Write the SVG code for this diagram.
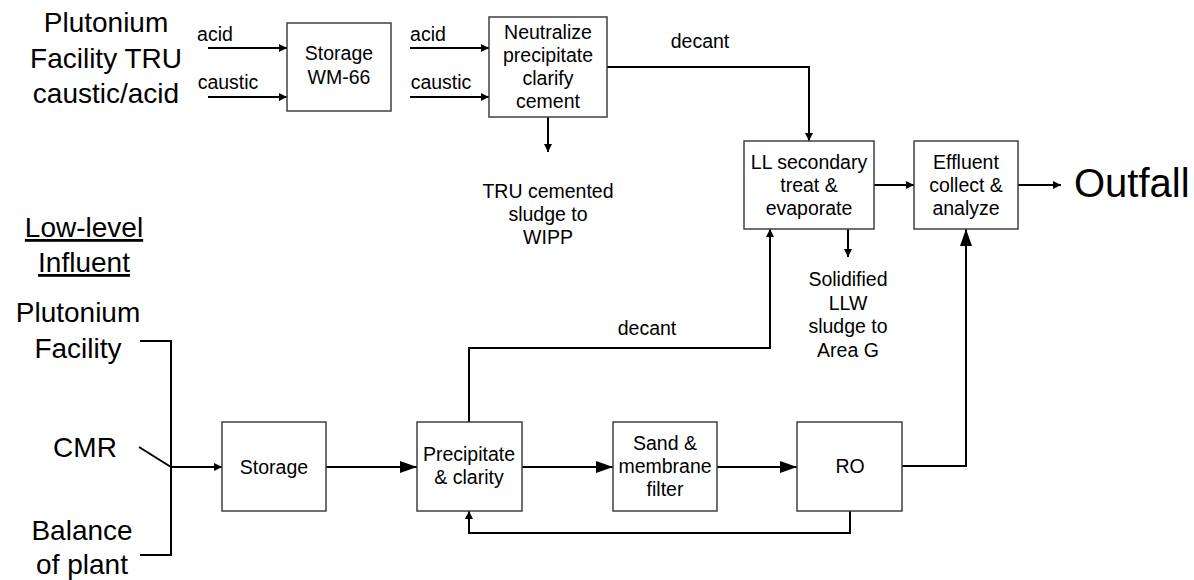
<svg xmlns="http://www.w3.org/2000/svg" width="1194" height="580" viewBox="0 0 1194 580">
<style>
.box{fill:#fff;stroke:#404040;stroke-width:1.5}
.c{fill:none;stroke:#000;stroke-width:2}
.s{marker-end:url(#sm)}
.l{marker-end:url(#lg)}
text{font-family:"Liberation Sans",Arial,sans-serif;fill:#000;text-anchor:middle}
.t{font-size:19.5px}
.big{font-size:28px}
.out{font-size:40px;text-anchor:start}
</style>
<defs>
<marker id="sm" markerUnits="userSpaceOnUse" markerWidth="8" markerHeight="8" refX="8" refY="4" orient="auto"><path d="M0,0 L8,4 L0,8 z" fill="#000"/></marker>
<marker id="lg" markerUnits="userSpaceOnUse" markerWidth="17" markerHeight="12" refX="17" refY="6" orient="auto"><path d="M0,0 L17,6 L0,12 z" fill="#000"/></marker>
</defs>
<rect width="1194" height="580" fill="#fff"/>
<g id="connectors">
<path class="c s" d="M208,48 H287"/>
<path class="c s" d="M208,97 H287"/>
<path class="c s" d="M410,48 H489"/>
<path class="c s" d="M410,97 H489"/>
<path class="c s" d="M548,117 V152"/>
<path class="c s" d="M607,67 H809 V141"/>
<path class="c s" d="M874,185 H914"/>
<path class="c s" d="M1018,185 H1061"/>
<path class="c s" d="M848,229 V257"/>
<path class="c" d="M140,341 H171 V555 H140"/>
<path class="c" d="M139,447 L171,467"/>
<path class="c s" d="M171,467 H222"/>
<path class="c l" d="M326,467 H417"/>
<path class="c l" d="M522,467 H613"/>
<path class="c l" d="M717,467 H797"/>
<path class="c l" d="M902,466 H966 V229"/>
<path class="c s" d="M469,422 V348 H770 V229"/>
<path class="c s" d="M850,511 V533 H469 V511"/>
<text class="t" x="215" y="41">acid</text>
<text class="t" x="228" y="89">caustic</text>
<text class="t" x="428" y="41">acid</text>
<text class="t" x="441" y="89">caustic</text>
<text class="t" x="700" y="48">decant</text>
<text class="t" x="647" y="335">decant</text>
</g>
<g id="pu-tru-source">
<text class="big" x="106" y="32">Plutonium</text>
<text class="big" x="106" y="68">Facility TRU</text>
<text class="big" x="106" y="103">caustic/acid</text>
</g>
<g id="storage-wm66">
<rect class="box" x="287" y="23" width="104" height="88"/>
<text class="t" x="339" y="60">Storage</text>
<text class="t" x="339" y="84">WM-66</text>
</g>
<g id="neutralize">
<rect class="box" x="489" y="17" width="118" height="100"/>
<text class="t" x="548" y="39">Neutralize</text>
<text class="t" x="548" y="62">precipitate</text>
<text class="t" x="548" y="85">clarify</text>
<text class="t" x="548" y="108">cement</text>
</g>
<g id="tru-sludge">
<text class="t" x="548" y="198">TRU cemented</text>
<text class="t" x="548" y="221">sludge to</text>
<text class="t" x="548" y="244">WIPP</text>
</g>
<g id="ll-secondary">
<rect class="box" x="744" y="141" width="130" height="88"/>
<text class="t" x="809" y="169">LL secondary</text>
<text class="t" x="809" y="192">treat &amp;</text>
<text class="t" x="809" y="215">evaporate</text>
</g>
<g id="effluent">
<rect class="box" x="914" y="141" width="104" height="88"/>
<text class="t" x="966" y="169">Effluent</text>
<text class="t" x="966" y="192">collect &amp;</text>
<text class="t" x="966" y="215">analyze</text>
</g>
<g id="outfall">
<text class="out" x="1074" y="197">Outfall</text>
</g>
<g id="llw-sludge">
<text class="t" x="848" y="286">Solidified</text>
<text class="t" x="848" y="310">LLW</text>
<text class="t" x="848" y="333">sludge to</text>
<text class="t" x="848" y="357">Area G</text>
</g>
<g id="low-level-influent">
<text class="big" x="84" y="237" text-decoration="underline">Low-level</text>
<text class="big" x="84" y="272" text-decoration="underline">Influent</text>
</g>
<g id="pu-facility">
<text class="big" x="78" y="322">Plutonium</text>
<text class="big" x="78" y="358">Facility</text>
</g>
<g id="cmr">
<text class="big" x="85" y="457">CMR</text>
</g>
<g id="balance-of-plant">
<text class="big" x="82" y="540">Balance</text>
<text class="big" x="82" y="574">of plant</text>
</g>
<g id="storage">
<rect class="box" x="222" y="422" width="104" height="89"/>
<text class="t" x="274" y="474">Storage</text>
</g>
<g id="precipitate">
<rect class="box" x="417" y="422" width="105" height="89"/>
<text class="t" x="469" y="461">Precipitate</text>
<text class="t" x="469" y="484">&amp; clarity</text>
</g>
<g id="sand-filter">
<rect class="box" x="613" y="422" width="104" height="89"/>
<text class="t" x="665" y="450">Sand &amp;</text>
<text class="t" x="665" y="473">membrane</text>
<text class="t" x="665" y="496">filter</text>
</g>
<g id="ro">
<rect class="box" x="797" y="422" width="105" height="89"/>
<text class="t" x="850" y="473">RO</text>
</g>
</svg>
